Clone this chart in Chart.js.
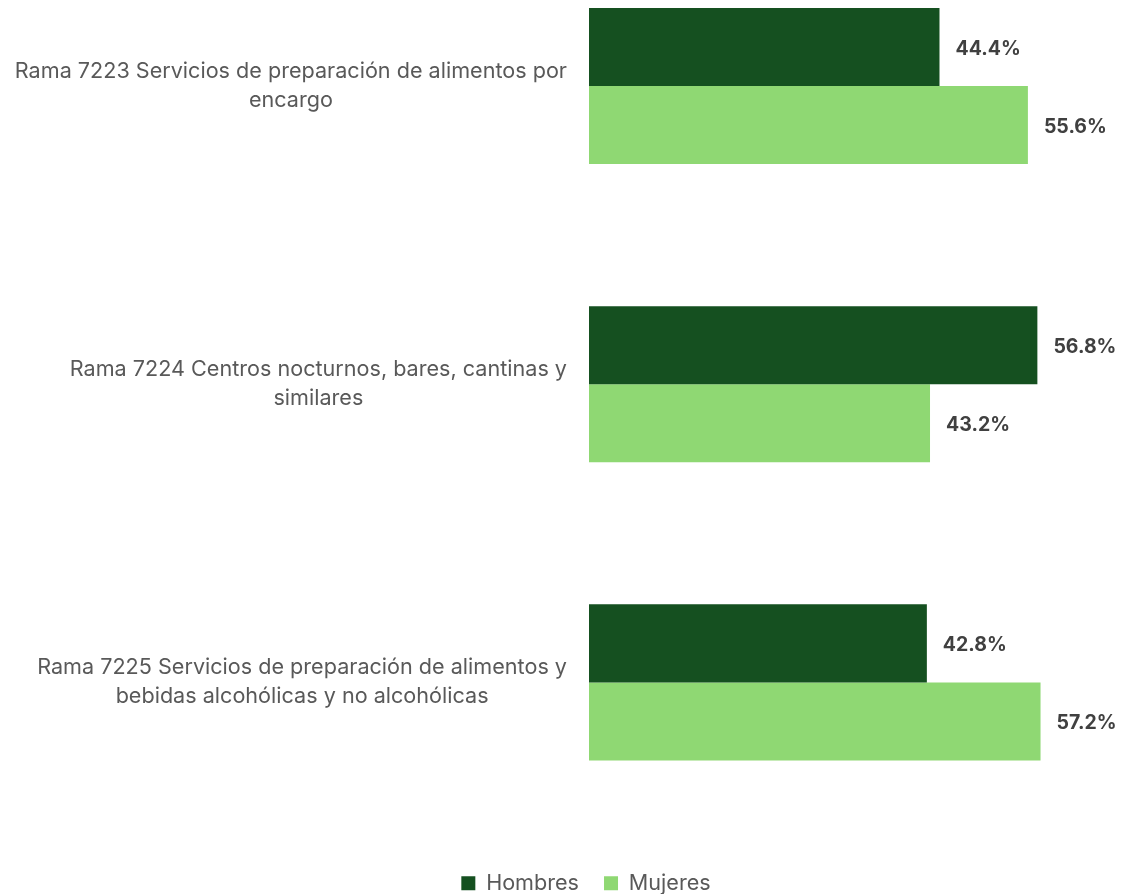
<!DOCTYPE html>
<html lang="es">
<head>
    <meta charset="UTF-8">
    <title>Hombres y mujeres por rama</title>
    <style>
        html, body {
            margin: 0;
            padding: 0;
            background: #ffffff;
        }
        .chart-box {
            width: 1125px;
            height: 894px;
        }
    </style>
</head>
<body>
    <div class="chart-box">
        <canvas id="ramaChart"></canvas>
    </div>

    <script src="https://cdn.jsdelivr.net/npm/chart.js"></script>
<script>
    // data
    const categories = [
        ["Rama 7223 Servicios de preparación de alimentos por", "encargo"],
        ["Rama 7224 Centros nocturnos, bares, cantinas y", "similares"],
        ["Rama 7225 Servicios de preparación de alimentos y", "bebidas alcohólicas y no alcohólicas"]
    ];
    const seriesNames = ["Hombres", "Mujeres"];
    const hombres = [44.4, 56.8, 42.8];
    const mujeres = [55.6, 43.2, 57.2];

    const darkGreen = '#155020';
    const lightGreen = '#8FD873';
    const labelFont = "Inter, 'Noto Sans', sans-serif";

    // draws the wrapped category labels: block right aligned, lines centered in the block
    const categoryLabels = {
        id: 'categoryLabels',
        afterDraw(chart) {
            const ctx = chart.ctx;
            const yScale = chart.scales.y;
            const right = chart.chartArea.left - 22;
            const lineH = 29;
            ctx.save();
            ctx.font = "21.6px " + labelFont;
            ctx.fillStyle = '#595959';
            ctx.textAlign = 'center';
            ctx.textBaseline = 'middle';
            categories.forEach((lines, i) => {
                const yc = yScale.getPixelForTick(i);
                const blockW = Math.max(...lines.map(l => ctx.measureText(l).width));
                const cx = right - blockW / 2;
                const y0 = yc - (lines.length - 1) * lineH / 2;
                lines.forEach((l, j) => ctx.fillText(l, cx, y0 + j * lineH));
            });
            ctx.restore();
        }
    };

    // value labels at the end of every bar
    const valueLabels = {
        id: 'valueLabels',
        afterDatasetsDraw(chart) {
            const ctx = chart.ctx;
            ctx.save();
            ctx.font = "700 19.5px Inter, sans-serif";
            ctx.fillStyle = '#404040';
            ctx.textAlign = 'left';
            ctx.textBaseline = 'middle';
            chart.data.datasets.forEach((ds, di) => {
                const meta = chart.getDatasetMeta(di);
                meta.data.forEach((bar, i) => {
                    ctx.fillText(ds.data[i].toFixed(1) + '%', bar.x + 16, bar.y + 2);
                });
            });
            ctx.restore();
        }
    };

    const ctx = document.getElementById('ramaChart').getContext('2d');
    new Chart(ctx, {
        type: 'bar',
        data: {
            labels: categories,
            datasets: [
                { label: seriesNames[0], data: hombres, backgroundColor: darkGreen, clip: false },
                { label: seriesNames[1], data: mujeres, backgroundColor: lightGreen, clip: false }
            ]
        },
        options: {
            indexAxis: 'y',
            responsive: true,
            maintainAspectRatio: false,
            animation: false,
            layout: {
                padding: { top: 86, right: 15, left: 62, bottom: -10 }
            },
            categoryPercentage: 0.5235,
            barPercentage: 1,
            scales: {
                x: {
                    min: 0,
                    max: 66,
                    grid: { display: false },
                    border: { display: false },
                    ticks: { display: false },
                    afterFit(scale) { scale.height = 165; }
                },
                y: {
                    offset: false,
                    grid: { display: false },
                    border: { display: false },
                    ticks: { display: false },
                    afterFit(scale) { scale.width = 527; }
                }
            },
            plugins: {
                legend: {
                    position: 'bottom',
                    labels: {
                        boxWidth: 14,
                        boxHeight: 14,
                        padding: 25,
                        color: '#595959',
                        font: { size: 21.6, family: labelFont }
                    }
                },
                tooltip: { enabled: false }
            }
        },
        plugins: [categoryLabels, valueLabels]
    });
</script>
</body>
</html>
